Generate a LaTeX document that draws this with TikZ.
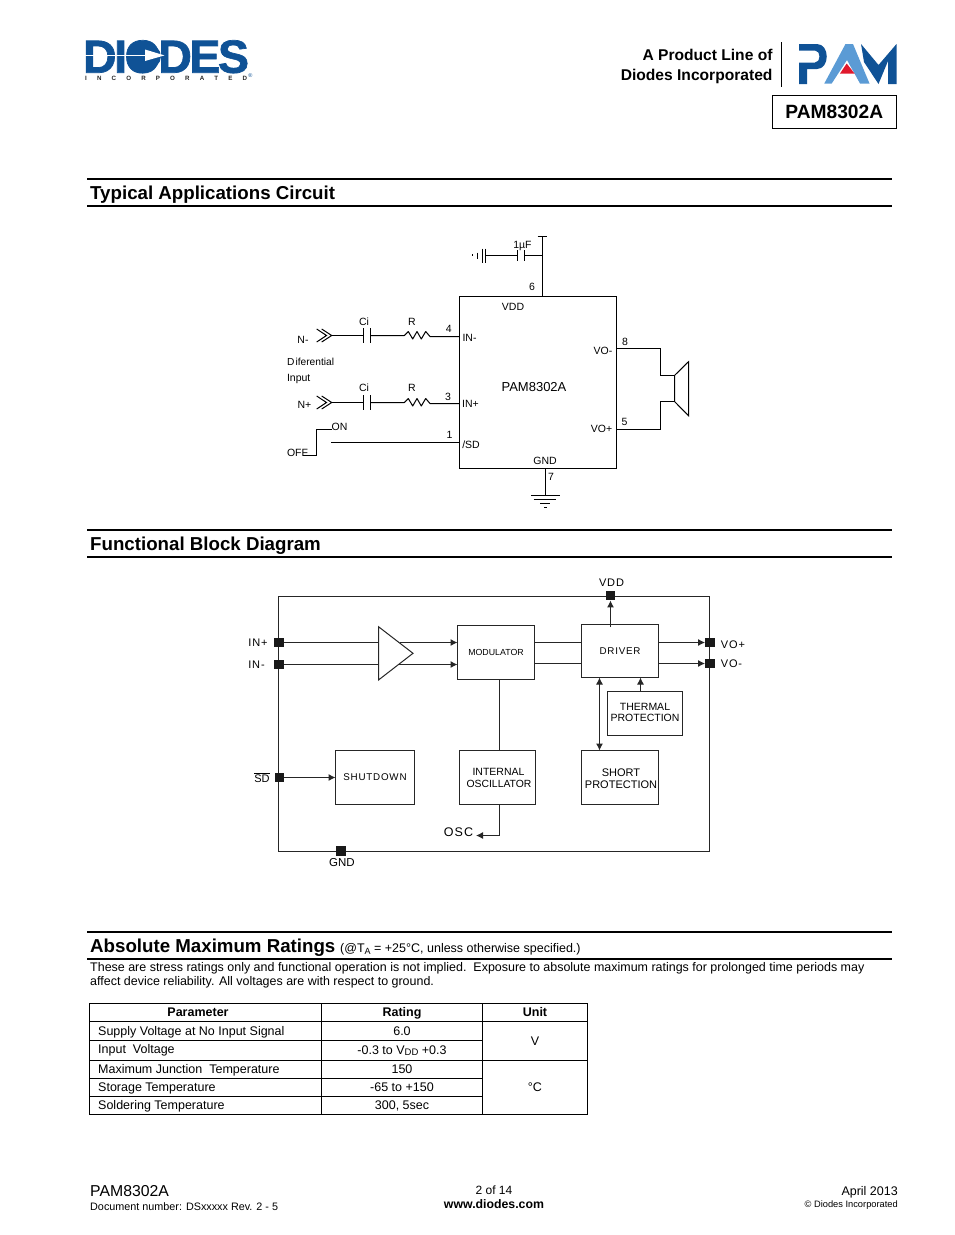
\documentclass[tikz,border=0pt]{standalone}
\usepackage{fontspec}
\setmainfont{Liberation Sans}
\newfontfamily\spfont[LetterSpace=8]{Liberation Sans}
\newfontfamily\logofont[BoldFeatures={FakeBold=1.5,LetterSpace=-5.3}]{Liberation Sans}
\usetikzlibrary{arrows.meta}
\definecolor{dblue}{HTML}{0F5296}
\definecolor{lblue}{HTML}{5B9BD5}
\definecolor{pamred}{HTML}{E0182D}
\newcommand{\fs}[1]{\fontsize{#1}{#1}\selectfont}
\tikzset{
 lab/.style={inner sep=0pt,outer sep=0pt,text height=.72em,text depth=.2em,font=\fs{#1},yshift=-1.5pt},
 lab/.default=10.5,
 rule/.style={line width=1.8pt},
 wire/.style={line width=1pt},
 bwire/.style={line width=1pt,draw=black!85},
 bbox/.style={draw=black!85,line width=1pt,inner sep=0pt,outer sep=0pt},
 arr/.style={-{Latex[length=7pt,width=7pt]}},
 pin/.style={fill=black!90,inner sep=0pt,minimum size=9.5pt},
 tl/.style={draw=black,line width=.9pt},
}
\begin{document}
\begin{tikzpicture}[x=1pt,y=-1pt]
\useasboundingbox (0,0) rectangle (954,1235);
% ---------- logos
\node[inner sep=0,anchor=west,text=dblue,text depth=0pt,font=\fs{46.5}\logofont\bfseries] (diodes) at (82.8,56.5) {DIODES};
\fill[dblue] (146,56.5) ellipse [x radius=15,y radius=13];
\fill[white] (84,54.6) rectangle (147,56.2);
\fill[white] (145,49.5) -- (164.5,55.4) -- (145,61) -- cycle;
\node[lab=5.5,text=dblue] (reg) at (250.5,73) {®};
\node[inner sep=0,anchor=west,font=\fs{6.2}\bfseries,text=black!85] (inc) at (85,78.5) {\makebox[162pt][s]{I\hfill N\hfill C\hfill O\hfill R\hfill P\hfill O\hfill R\hfill A\hfill T\hfill E\hfill D}};
\node[lab=15.6,anchor=east,font=\fs{15.6}\bfseries] (pl1) at (772.5,56) {A Product Line of};
\node[lab=15.6,anchor=east,font=\fs{15.6}\bfseries] (pl2) at (772.5,76) {Diodes Incorporated};
\draw[line width=1pt] (781,42) -- (781,87);
\fill[dblue] (799,44) -- (817,44) .. controls (830,44) and (830,69) .. (817,69) -- (807,69) -- (807,84) -- (799,84) -- (799,62.5) -- (815,62.5) .. controls (821,62.5) and (821,50.5) .. (815,50.5) -- (799,50.5) -- cycle;
\fill[dblue] (861,44) -- (878.5,65) -- (896.5,44) -- (896.5,84) -- (888,84) -- (888,61) -- (878.5,84) -- (864,62) -- cycle;
\fill[lblue] (824.3,83.5) -- (845.5,44) -- (853,44) -- (869.5,83.5) -- (860,83.5) -- (847,60) -- (831.7,83.5) -- cycle;
\fill[pamred] (846.7,63.5) -- (854.5,73.5) -- (840,73.5) -- cycle;
\node[draw,line width=1.3pt,minimum width=124pt,minimum height=33pt,inner sep=0,font=\fs{19.2}\bfseries] (part) at (834.3,112) {PAM8302A};
% ---------- section rules
\draw[rule] (87,179) -- (892,179);
\draw[rule] (87,206) -- (892,206);
\draw[rule] (87,530) -- (892,530);
\draw[rule] (87,557) -- (892,557);
\draw[rule] (87,932) -- (892,932);
\draw[rule] (87,959) -- (892,959);
\node[anchor=base west,inner sep=0,font=\fs{18.7}\bfseries] (t1) at (90,199.5) {Typical Applications Circuit};
\node[anchor=base west,inner sep=0,font=\fs{18.7}\bfseries] (t2) at (90,550.5) {Functional Block Diagram};
\node[anchor=base west,inner sep=0,font=\fs{18.7}\bfseries] (t3) at (90,952.5) {Absolute Maximum Ratings};
\node[anchor=base west,inner sep=0,font=\fs{12.5}] (t3b) at (340,952.5) {(@T\raisebox{-1.5pt}{\fs{9}A} = +25°C, unless otherwise specified.)};
\node[anchor=base west,inner sep=0,font=\fs{12.47}] (p1) at (90,971) {These are stress ratings only and functional operation is not implied.\ \ Exposure to absolute maximum ratings for prolonged time periods may};
\node[anchor=base west,inner sep=0,font=\fs{12.47}] (p2) at (90,985) {affect device reliability. All voltages are with respect to ground.};
% ---------- application circuit
\node[draw,line width=1pt,minimum width=157pt,minimum height=172pt,inner sep=0,outer sep=0,anchor=north west] (ic) at (459.5,296.5) {};
\node[lab=13] (icn) at (534,387) {PAM8302A};
\node[lab=10.5] (vdd) at (513,306) {VDD};
\node[lab=10.5] (inm) at (469.5,337.5) {IN-};
\node[lab=10.5] (inp) at (470.5,403) {IN+};
\node[lab=10.5] (sd) at (471,444) {/SD};
\node[lab=10.5] (vom) at (603,350.5) {VO-};
\node[lab=10.5] (vop) at (601.5,428) {VO+};
\node[lab=10.5] (gnd) at (545,460) {GND};
\node[lab=10.5] (n6) at (532,286.5) {6};
\node[lab=10.5] (n4) at (448.7,328.5) {4};
\node[lab=10.5] (n3) at (448,396) {3};
\node[lab=10.5] (n1) at (449.5,434) {1};
\node[lab=10.5] (n8) at (625,341.5) {8};
\node[lab=10.5] (n5) at (624.5,421.5) {5};
\node[lab=10.5] (n7) at (551,476) {7};
\node[lab=10.5] (uf) at (522.5,244.5) {1µF};
\node[lab=10.5] (ci1) at (364,321.5) {Ci};
\node[lab=10.5] (r1) at (412,321.5) {R};
\node[lab=10.5] (ci2) at (364,387) {Ci};
\node[lab=10.5] (r2) at (412,387) {R};
\node[lab=10.5] (nm) at (303,339) {N-};
\node[lab=10.5] (np) at (304.5,404.5) {N+};
\node[lab=10.2,anchor=west] (dif) at (287,361) {D\kern1.2pt iferential};
\node[lab=10.5,anchor=west] (inpt) at (287,377) {Input};
\node[lab=10.5] (on) at (339.5,426.5) {ON};
\node[lab=10.5,anchor=west] (off) at (287,452.5) {OFF};
% supply
\coordinate (p6) at (542.5,296); \coordinate (top6) at (542.5,236.5);
\coordinate (j6) at (542.5,255.5);
\draw[wire] (p6) -- (top6) (537.5,236.5) -- (546.5,236.5);
\coordinate (c6a) at (517.5,255.5); \coordinate (c6b) at (524.5,255.5);
\draw[wire] (j6) -- (c6b) (c6a) -- (485.5,255.5);
\draw[wire] (c6a)+(0,-5.5) -- +(0,5.5) (c6b)+(0,-5.5) -- +(0,5.5);
\draw[wire] (485.5,248.5) -- (485.5,263) (482.5,248.5) -- (482.5,263) (477.5,252.5) -- (477.5,258.5) (472.5,254) -- (472.5,256);
% differential inputs
\foreach \y in {335.5,402.5}{
 \draw[wire] (316.7,\y-6.5) -- (326.5,\y) -- (316.7,\y+6.5) (321.7,\y-6.5) -- (331.7,\y) -- (321.7,\y+6.5);
 \draw[wire] (331.7,\y) -- (363.5,\y);
 \draw[wire] (363.5,\y-7.5) -- (363.5,\y+7.5) (370.5,\y-7.5) -- (370.5,\y+7.5);
 \draw[wire,line join=round] (370.5,\y) -- (404.3,\y) -- (408.3,\y-4) -- (412.7,\y+3.5) -- (417,\y-4) -- (421.3,\y+3.5) -- (425.7,\y-4) -- (430,\y+1) -- (445.7,\y+1) -- (459.3,\y+1);
}
% shutdown switch
\coordinate (swa) at (303,455.5); \coordinate (swb) at (316.5,429.5); \coordinate (swc) at (331.7,429.5);
\draw[wire] (swa) -- (316.5,455.5) -- (swb) -- (swc);
\coordinate (sdw) at (331,442.5);
\draw[wire] (sdw) -- (ic.west |- sdw);
% outputs, speaker
\coordinate (sp1) at (674.5,375.5); \coordinate (sp2) at (674.5,401.5);
\draw[wire] (616.3,348.5) -- (660.5,348.5) -- (660.5,375.5) -- (sp1);
\draw[wire] (616.3,429.5) -- (660.5,429.5) -- (660.5,401.5) -- (sp2);
\draw[wire] (sp1) -- (688.5,361.7) -- (688.5,415.7) -- (sp2) -- cycle;
% ground
\coordinate (g1) at (545.5,495.5);
\draw[wire] (545.5,468.5) -- (g1);
\draw[wire] (531,495.5) -- (560,495.5) (533.5,499.5) -- (556,499.5) (540,503.5) -- (550,503.5) (544,507.5) -- (547,507.5);
% ---------- block diagram
\draw[bwire] (278.5,596.5) rectangle (709.5,851.5);
\node[bbox,minimum width=77pt,minimum height=54pt,font=\fs{8.8}] (mod) at (496,652.5) {MODULATOR};
\node[bbox,minimum width=77pt,minimum height=53pt,font=\fs{9.8}\spfont] (drv) at (620,651) {DRIVER};
\node[bbox,minimum width=75pt,minimum height=44pt] (thm) at (645,713.5) {};
\node[lab=10.5] (thm1) at (645,706) {THERMAL};
\node[lab=10.5] (thm2) at (645,717.5) {PROTECTION};
\node[bbox,minimum width=77pt,minimum height=54pt] (sh) at (620,777.5) {};
\node[lab=11] (sh1) at (621,772.5) {SHORT};
\node[lab=11] (sh2) at (621,784) {PROTECTION};
\node[bbox,minimum width=76pt,minimum height=54pt] (osc) at (497.5,777.5) {};
\node[lab=10.5] (osc1) at (498.5,771.5) {INTERNAL};
\node[lab=10.4] (osc2) at (499,783) {OSCILLATOR};
\node[bbox,minimum width=79pt,minimum height=54pt,font=\fs{9.8}\spfont] (shd) at (375,777.5) {SHUTDOWN};
\node[pin] (pinp) at (279,642.5) {};
\node[pin] (pinm) at (279,664.5) {};
\node[pin,minimum size=9pt] (psd) at (279.7,777.5) {};
\node[pin] (pgnd) at (341,851) {};
\node[pin] (pvdd) at (610.5,595.5) {};
\node[pin] (pvop) at (710,642.5) {};
\node[pin] (pvom) at (710,663.5) {};
\node[lab=11,font=\fs{11}\spfont] (lip) at (258,642) {IN+};
\node[lab=11,font=\fs{11}\spfont] (lim) at (256.5,664.5) {IN-};
\node[lab=11,font=\fs{11}] (lsd) at (262,778) {$\overline{\mbox{SD}}$};
\node[lab=11.5,font=\fs{11.5}] (lg) at (342,862) {GND};
\node[lab=11,font=\fs{11}\spfont] (lv) at (611.5,582) {VDD};
\node[lab=11,font=\fs{11}\spfont] (lvp) at (733,644) {VO+};
\node[lab=11,font=\fs{11}\spfont] (lvm) at (731.5,663.5) {VO-};
\node[lab=12.5,font=\fs{12.5}\spfont] (losc) at (458.5,832.7) {OSC};
% amp
\coordinate (a1) at (378.5,626.7); \coordinate (a2) at (378.5,680); \coordinate (a3) at (413,653.3);
\draw[bwire] (a1) -- (a3) -- (a2) -- cycle;
\draw[bwire] (pinp) -- (a1 |- pinp);
\draw[bwire] (pinm) -- (a1 |- pinm);
\coordinate (o1) at (400,642.5); \coordinate (o2) at (398,664.5);
\draw[bwire,arr] (o1) -- (mod.west |- o1);
\draw[bwire,arr] (o2) -- (mod.west |- o2);
\coordinate (md1) at (534.5,642.5); \coordinate (md2) at (534.5,663.5);
\draw[bwire] (md1) -- (drv.west |- md1);
\draw[bwire] (md2) -- (drv.west |- md2);
\draw[bwire,arr] (610.5,627) -- (pvdd.south);
\draw[bwire,arr] (drv.east |- pvop) -- (pvop.west);
\draw[bwire,arr] (drv.east |- pvom) -- (pvom.west);
\coordinate (th) at (640.5,691.5);
\draw[bwire,arr] (th) -- (drv.south -| th);
\coordinate (ds) at (599.5,677.5);
\draw[bwire,{Latex[length=7pt,width=7pt]}-{Latex[length=7pt,width=7pt]}] (ds) -- (sh.north -| ds);
\coordinate (mo) at (499.5,679.5);
\draw[bwire] (mo) -- (osc.north -| mo);
\coordinate (oo) at (499.5,804.5); \coordinate (oe) at (476,835.5);
\draw[bwire,arr] (oo) -- (oo |- oe) -- (oe);
\draw[bwire,arr] (psd.east) -- (shd.west |- psd.east);
% ---------- table
\draw[tl] (89.5,1003.5) rectangle (587.5,1114.5);
\draw[tl] (321.5,1003.5) -- (321.5,1114.5) (482.5,1003.5) -- (482.5,1114.5);
\draw[tl] (89.5,1021.5) -- (587.5,1021.5);
\draw[tl] (89.5,1040.5) -- (482.5,1040.5);
\draw[tl] (89.5,1060.5) -- (587.5,1060.5);
\draw[tl] (89.5,1078.5) -- (482.5,1078.5);
\draw[tl] (89.5,1096.5) -- (482.5,1096.5);
\tikzset{hd/.style={anchor=base,inner sep=0,font=\fs{12.5}\bfseries},tx/.style={anchor=base,inner sep=0,font=\fs{12.5}},tp/.style={anchor=base west,inner sep=0,font=\fs{12.5}}}
\node[hd] (h1) at (198,1016) {Parameter};
\node[hd] (h2) at (402,1016) {Rating};
\node[hd] (h3) at (535,1016) {Unit};
\node[tp] (a1t) at (98,1035) {Supply Voltage at No Input Signal};
\node[tp] (a2t) at (98,1053) {Input\ \ Voltage};
\node[tp] (a3t) at (98,1073) {Maximum Junction\ \ Temperature};
\node[tp] (a4t) at (98,1091) {Storage Temperature};
\node[tp] (a5t) at (98,1109) {Soldering Temperature};
\node[tx] (b1) at (402,1035) {6.0};
\node[tx] (b2) at (402,1054) {-0.3 to V\raisebox{-1.5pt}{\fs{9.5}DD} +0.3};
\node[tx] (b3) at (402,1073) {150};
\node[tx] (b4) at (402,1091) {-65 to +150};
\node[tx] (b5) at (402,1109) {300, 5sec};
\node[tx] (u1) at (535,1045) {V};
\node[tx] (u2) at (535,1091) {°C};
% ---------- footer
\node[anchor=base west,inner sep=0,font=\fs{15.8}] (f1) at (90,1196) {PAM8302A};
\node[anchor=base west,inner sep=0,font=\fs{10.8}] (f2) at (90,1210) {Document number: DSxxxxx Rev. 2 - 5};
\node[anchor=base,inner sep=0,font=\fs{12}] (f3) at (494,1194) {2 of 14};
\node[anchor=base,inner sep=0,font=\fs{12.3}\bfseries] (f4) at (494,1208) {www.diodes.com};
\node[anchor=base east,inner sep=0,font=\fs{12.5}] (f5) at (898,1195) {April 2013};
\node[anchor=base east,inner sep=0,font=\fs{9.3}] (f6) at (898,1207) {© Diodes Incorporated};
\end{tikzpicture}
\end{document}
